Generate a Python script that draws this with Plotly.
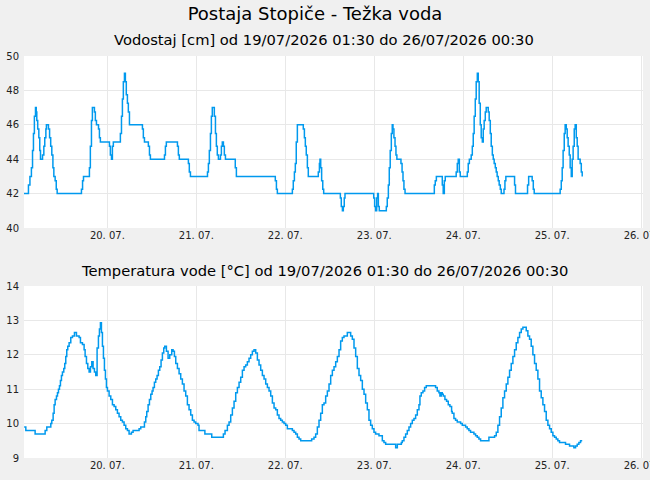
import pandas as pd
import plotly.graph_objects as go

# ---------------- data ----------------
BASE = pd.Timestamp("2026-07-19 00:00")

# water level: time of change (hours since 19/07 00:00) and level held from then [cm]
level_hours = [
    1.5, 2.7, 3.1, 3.5, 3.8, 4.05, 4.3, 4.6, 4.8, 4.95, 5.2, 5.5, 5.75, 5.95, 6.5, 6.85, 7.1, 7.4, 7.55,
    8.1, 8.4, 8.7, 9.0, 9.3, 9.55, 9.9, 10.2, 10.45,
    17.0, 17.3, 17.55, 19.15, 19.4, 19.7, 19.95, 20.5, 20.75, 21.05, 21.6, 21.85, 22.1, 24.55, 24.8, 25.1,
    25.35, 25.6,
    27.5, 27.8, 28.05, 28.3, 28.6, 28.85, 29.1, 29.4, 29.65, 29.95,
    33.45, 33.7, 34.0, 35.05, 35.35, 35.6, 39.4, 39.65, 39.9, 42.9, 43.15, 43.4, 45.85, 46.1, 46.4,
    51.0, 51.25, 51.5, 51.8, 52.05, 52.3, 52.85, 53.15, 53.4, 53.65, 53.95, 54.5, 54.75, 55.0, 55.3, 55.55,
    55.85, 58.5, 58.8,
    69.3, 69.6, 69.85, 73.9, 74.15, 74.45, 74.7, 74.95, 75.25, 76.85, 77.15, 77.4, 77.65, 77.95, 78.2,
    80.9, 81.2, 81.35, 81.55, 81.8, 82.1, 82.35, 86.85, 87.1, 87.4, 87.65, 87.9, 88.1,
    95.85, 96.1, 96.35, 96.65, 96.9, 97.1, 97.35,
    99.25, 99.5, 99.8, 100.05, 100.3, 100.6, 100.85, 101.05, 101.3, 101.6, 101.85, 102.1, 103.2, 103.5,
    103.75, 104.0, 104.3,
    112.2, 112.45, 112.75, 114.35, 114.6, 114.9, 115.15, 118.1, 118.4, 118.65, 118.95, 119.2,
    121.1, 121.35, 121.65, 122.15, 122.45, 122.7, 122.95, 123.25, 123.5, 123.8, 124.05, 124.3, 124.6,
    124.85, 125.15, 125.4, 125.65, 125.95, 126.2, 126.75, 127.0, 127.3, 127.55, 127.85, 128.1, 128.35,
    128.65, 128.9, 129.15, 129.45, 129.7, 130.0, 130.25,
    131.0, 131.25, 131.5, 133.85, 134.1, 137.35, 137.65, 138.6, 138.9, 139.15,
    146.15, 146.45, 146.7, 146.95, 147.25, 147.5, 147.8, 148.05, 148.3, 148.6, 148.85, 149.15, 149.4,
    149.65, 149.95, 150.2, 150.5, 150.75, 151.0, 151.55, 151.85, 152.1,
]
level_cm = [
    42, 42.5, 43, 43.5, 44.5, 45.5, 46.5, 47, 46.75, 46.25, 45.75, 45.25, 44.5, 44, 44.25, 44.75, 45.25,
    45.75, 46, 45.75, 45.25, 44.75, 44.25, 43.5, 43, 42.75, 42.25, 42,
    42.25, 42.75, 43, 43.5, 44.75, 46.25, 47, 46.75, 46.25, 46, 45.75, 45.25, 45, 44.75, 44.25, 44, 44.75, 45,
    45.5, 46.5, 47.5, 48.5, 49, 48.5, 47.75, 47.25, 46.75, 46,
    45.75, 45.25, 45, 44.75, 44.25, 44, 44.25, 44.75, 45, 44.75, 44.25, 44, 43.75, 43.25, 43,
    43.25, 43.75, 44.5, 45.5, 46.5, 47, 46.5, 45.5, 44.75, 44.25, 44, 44.25, 44.75, 45, 44.75, 44.25, 44,
    43.5, 43,
    42.75, 42.25, 42, 42.25, 42.75, 43.25, 43.75, 45, 46, 45.75, 45.25, 44.75, 44.25, 43.5, 43,
    43.25, 43.75, 44, 43.5, 42.75, 42.25, 42, 41.75, 41.25, 41, 41.25, 41.75, 42,
    41.75, 41.25, 41, 41.75, 42, 41.25, 41,
    41.25, 41.75, 42.5, 43.5, 44.5, 45.5, 46, 45.75, 45.25, 44.75, 44.25, 44, 43.75, 43.25, 42.75, 42.25, 42,
    42.5, 42.75, 43, 42.5, 42, 42.75, 43, 43.25, 43.75, 44, 43.25, 43,
    43.25, 43.75, 44, 44.25, 44.75, 45.5, 46.5, 47.5, 48.5, 49, 48.5, 47.25, 46, 45.25, 45, 45.75, 46.25,
    46.75, 47, 46.75, 46.25, 45.5, 44.75, 44.25, 44, 43.75, 43.5, 43.25, 43, 42.75, 42.5, 42.25, 42,
    42.25, 42.75, 43, 42.5, 42, 42.5, 43, 42.75, 42.25, 42,
    42.25, 42.75, 43.5, 44.5, 45.5, 46, 45.75, 45.25, 44.75, 44.25, 43.5, 43, 44, 44.75, 45.75, 46, 45.25,
    44.75, 44, 43.75, 43.25, 43,
]

# water temperature: time of change (hours since 19/07 00:00) and value [°C]
temp_hours = [
    1.54, 1.99, 4.5, 7.2, 7.65, 8.73, 9.0, 9.36, 9.63, 9.9, 10.26, 10.53, 10.8, 11.07, 11.33, 11.6, 11.87,
    12.23, 12.5, 12.77, 13.04, 13.31, 13.67, 14.12, 14.57, 15.11, 15.65, 16.37, 16.73, 17.27, 17.72, 17.99,
    18.35, 18.71, 19.07, 19.43, 19.79, 20.14, 20.5, 20.86, 21.22, 21.58, 21.85, 22.12, 22.39, 22.66, 22.93,
    23.2, 23.47, 23.74, 24.01, 24.46, 24.91, 25.36, 25.81, 26.26, 26.7, 27.15, 27.6, 28.05, 28.5, 28.95,
    29.4, 29.85, 30.48, 30.93, 32.55, 33.0, 33.99, 34.35, 34.62, 34.98, 35.34, 35.7, 36.05, 36.32, 36.68,
    37.04, 37.4, 37.76, 38.12, 38.48, 38.84, 39.2, 39.47, 39.92, 40.37, 40.82, 41.36, 41.72, 42.08, 42.44,
    42.89, 43.34, 43.78, 44.23, 44.68, 45.13, 45.58, 46.03, 46.48, 46.93, 47.38, 47.82, 48.45, 48.72,
    50.3, 52.15, 55.29, 55.74, 56.37, 56.82, 57.27, 57.72, 58.17, 58.62, 59.07, 59.52, 59.97, 60.42,
    60.87, 61.31, 61.76, 62.21, 62.66, 63.11, 63.56, 64.01, 64.46, 64.91, 65.36, 65.81, 66.26, 66.71,
    67.16, 67.61, 68.06, 68.51, 68.96, 69.41, 69.85, 70.3, 70.75, 71.2, 71.65, 72.1, 72.55, 73.9, 74.35,
    74.8, 75.25, 75.7, 76.15, 79.11, 79.74, 80.19, 80.64, 81.09, 81.54, 81.99, 82.44, 82.89, 83.34, 83.79,
    84.24, 84.69, 85.14, 85.59, 86.04, 86.49, 86.93, 87.38, 87.83, 88.73, 89.63, 90.08, 90.53, 90.98,
    91.43, 91.88, 92.33, 92.78, 93.23, 93.68, 94.13, 94.57, 95.02, 95.47, 95.92, 96.37, 97.27, 98.17,
    98.62, 99.07, 101.77, 102.22, 103.3, 103.56, 104.01, 104.46, 104.91, 105.36, 105.81, 106.26, 106.71,
    107.16, 107.61, 108.06, 108.32, 108.68, 109.13, 109.58, 110.03, 112.54, 112.99, 113.44, 113.71,
    114.07, 114.34, 114.61, 115.06, 115.51, 115.96, 116.41, 116.86, 117.04, 117.49, 117.94, 118.39,
    119.29, 119.74, 120.63, 121.08, 121.53, 121.98, 122.88, 123.33, 123.78, 124.23, 124.68, 126.93,
    128.46, 128.91, 129.35, 129.8, 130.25, 130.7, 131.15, 131.6, 132.05, 132.5, 132.95, 133.4, 133.85,
    134.3, 134.75, 135.2, 135.65, 136.1, 137.0, 137.44, 137.89, 138.34, 138.79, 139.24, 139.69, 140.14,
    140.59, 141.04, 141.49, 141.94, 142.39, 142.84, 143.29, 143.74, 144.19, 144.64, 145.09, 145.53,
    145.98, 147.6, 148.68, 149.85, 150.3, 150.75, 151.2, 151.65, 152.1,
]
temp_c = [
    9.9, 9.8, 9.7, 9.8, 9.9, 10.0, 10.1, 10.3, 10.55, 10.7, 10.8, 10.9, 11.0, 11.1, 11.25, 11.4, 11.5,
    11.6, 11.75, 11.95, 12.15, 12.25, 12.35, 12.5, 12.55, 12.65, 12.55, 12.5, 12.35, 12.3, 12.15, 11.95,
    11.75, 11.6, 11.5, 11.65, 11.8, 11.6, 11.5, 11.4, 12.2, 12.55, 12.75, 12.93, 12.65, 12.25, 11.9,
    11.55, 11.3, 11.05, 10.95, 10.8, 10.7, 10.55, 10.5, 10.4, 10.3, 10.2, 10.1, 10.05, 9.95, 9.85,
    9.8, 9.7, 9.75, 9.8, 9.85, 9.9, 10.05, 10.2, 10.35, 10.55, 10.7, 10.85, 10.95, 11.05, 11.2,
    11.3, 11.4, 11.55, 11.65, 11.85, 12.05, 12.2, 12.25, 12.1, 11.9, 12.0, 12.15, 12.1, 11.95, 11.75,
    11.6, 11.45, 11.3, 11.15, 10.95, 10.8, 10.55, 10.4, 10.25, 10.1, 10.05, 10.0, 9.95, 9.8,
    9.7, 9.6, 9.7, 9.8, 9.95, 10.05, 10.25, 10.45, 10.65, 10.9, 11.05, 11.2, 11.35, 11.55,
    11.65, 11.7, 11.8, 11.9, 12.0, 12.1, 12.15, 12.05, 11.85, 11.7, 11.55, 11.4, 11.3, 11.15,
    11.05, 10.95, 10.8, 10.6, 10.45, 10.4, 10.25, 10.15, 10.1, 10.05, 10.0, 9.95, 9.85, 9.8, 9.75,
    9.7, 9.6, 9.55, 9.5, 9.55, 9.6, 9.7, 9.9, 10.1, 10.3, 10.55, 10.6, 10.8, 10.95, 11.15,
    11.4, 11.55, 11.65, 11.8, 11.95, 12.15, 12.4, 12.5, 12.55, 12.65, 12.55, 12.45, 12.2, 11.95,
    11.6, 11.4, 11.25, 11.0, 10.85, 10.6, 10.4, 10.1, 9.95, 9.85, 9.75, 9.7, 9.65, 9.5,
    9.45, 9.4, 9.3, 9.4, 9.45, 9.5, 9.6, 9.7, 9.8, 9.9, 10.0, 10.1, 10.15,
    10.25, 10.4, 10.55, 10.8, 10.9, 10.95, 11.05, 11.1, 11.05, 10.95, 10.9, 10.8,
    10.9, 10.85, 10.8, 10.7, 10.65, 10.55, 10.5, 10.35, 10.3, 10.15, 10.1, 10.05,
    10.0, 9.95, 9.9, 9.85, 9.8, 9.75, 9.7, 9.65, 9.6, 9.55, 9.5, 9.6,
    9.65, 9.75, 9.95, 10.2, 10.45, 10.75, 10.95, 11.15, 11.35, 11.55, 11.75, 11.95, 12.15,
    12.35, 12.5, 12.65, 12.75, 12.8, 12.7, 12.55, 12.45, 12.25, 12.0, 11.75, 11.55, 11.3,
    10.95, 10.75, 10.55, 10.35, 10.1, 9.95, 9.85, 9.75, 9.65, 9.6, 9.55, 9.5,
    9.45, 9.4, 9.35, 9.3, 9.35, 9.4, 9.45, 9.5, 9.5,
]

x_range = ["2026-07-19 01:30", "2026-07-26 00:30"]
level_range = [40, 50]
temp_range = [9, 14]

title_text = "Postaja Stopiče - Težka voda"
subtitle_level = "Vodostaj [cm] od 19/07/2026 01:30 do 26/07/2026 00:30"
subtitle_temp = "Temperatura vode [°C] od 19/07/2026 01:30 do 26/07/2026 00:30"

# ---------------- styling ----------------
BLUE = "#0099ee"
GRID = "#e8e8e8"
FONT = "DejaVu Sans"

W, H = 650, 480
ML, MR, MT, MB = 24, 7, 56, 22
plot_h = H - MT - MB
top_domain = [(H - MB - 228) / plot_h, 1.0]
bot_domain = [0.0, (H - MB - 286) / plot_h]


def to_time(hours):
    return BASE + pd.to_timedelta(hours, unit="h")


fig = go.Figure()
fig.add_trace(go.Scatter(
    x=to_time(level_hours), y=level_cm, mode="lines",
    line=dict(color=BLUE, width=1.5, shape="hv"),
    xaxis="x", yaxis="y", hoverinfo="skip"))
fig.add_trace(go.Scatter(
    x=to_time(temp_hours), y=temp_c, mode="lines",
    line=dict(color=BLUE, width=1.5, shape="hv"),
    xaxis="x2", yaxis="y2", hoverinfo="skip"))

tickfont = dict(family=FONT, size=10, color="#222222")
xcommon = dict(type="date", range=x_range, tick0="2026-07-20", dtick=86400000,
               tickformat="%d. %m.", showgrid=True, gridcolor=GRID, gridwidth=1,
               zeroline=False, showline=False, ticks="", tickfont=tickfont,
               ticklabeloverflow="allow", automargin=False)
ycommon = dict(showgrid=True, gridcolor=GRID, gridwidth=1, zeroline=False,
               showline=False, ticks="", tickfont=tickfont, ticklabelstandoff=4,
               automargin=False)

fig.update_layout(
    width=W, height=H,
    margin=dict(l=ML, r=MR, t=MT, b=MB, pad=0, autoexpand=False),
    paper_bgcolor="#f0f0f0", plot_bgcolor="#ffffff",
    showlegend=False,
    font=dict(family=FONT, color="#000000"),
    title=dict(text=title_text, x=315 / W, xanchor="center", xref="container",
               y=1 - 14 / H, yanchor="middle", yref="container",
               font=dict(family=FONT, size=18, color="#000000")),
    xaxis=dict(domain=[0, 1], anchor="y", **xcommon),
    xaxis2=dict(domain=[0, 1], anchor="y2", **xcommon),
    yaxis=dict(domain=top_domain, anchor="x", range=level_range, dtick=2, **ycommon),
    yaxis2=dict(domain=bot_domain, anchor="x2", range=temp_range, dtick=1, **ycommon),
)

fig.add_annotation(text=subtitle_level, xref="paper", yref="paper",
                   x=(323.5 - ML) / (W - ML - MR), y=(H - MB - 39.5) / plot_h,
                   xanchor="center", yanchor="middle", showarrow=False,
                   font=dict(family=FONT, size=14.7, color="#000000"))
fig.add_annotation(text=subtitle_temp, xref="paper", yref="paper",
                   x=(324.5 - ML) / (W - ML - MR), y=(H - MB - 270) / plot_h,
                   xanchor="center", yanchor="middle", showarrow=False,
                   font=dict(family=FONT, size=14.7, color="#000000"))

fig.write_html("out.html", include_plotlyjs=True, config={"displayModeBar": False})
